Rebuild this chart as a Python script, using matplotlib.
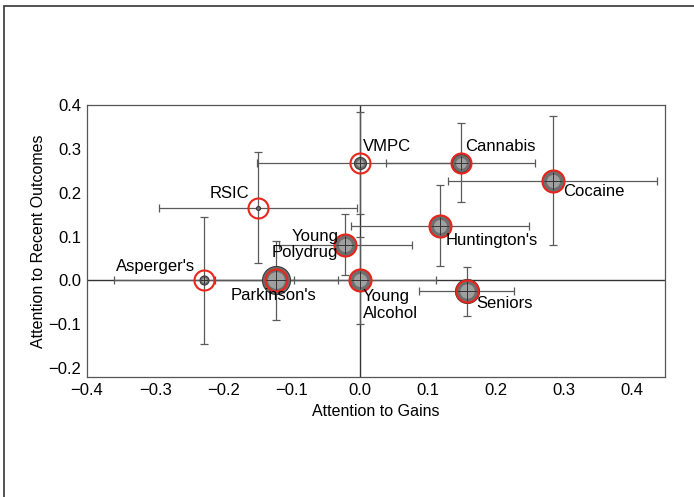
import matplotlib.pyplot as plt
from matplotlib.patches import Rectangle

plt.rcParams['font.family'] = ['Liberation Sans', 'DejaVu Sans']

groups = ["Asperger's", "Parkinson's", "Young\nAlcohol", "Young\nPolydrug", "RSIC",
          "VMPC", "Cannabis", "Cocaine", "Huntington's", "Seniors"]
gains = [-0.228, -0.122, 0.0, -0.021, -0.149, 0.0, 0.148, 0.283, 0.118, 0.157]
recent = [0.0, 0.0, 0.0, 0.082, 0.166, 0.268, 0.268, 0.227, 0.125, -0.025]
gains_err = [0.132, 0.09, 0.112, 0.098, 0.145, 0.15, 0.11, 0.153, 0.13, 0.07]
recent_err = [0.145, 0.09, 0.10, 0.069, 0.126, 0.117, 0.09, 0.147, 0.093, 0.056]

# marker sizes (px) and label placement
dot_px = [9, 28, 22, 22, 4, 12, 18, 22, 22, 24]
ring_px = [20, 22, 22, 22, 20, 20, 20, 22, 22, 22]
offsets = [(-9, 6), (-3, -8), (3, -9), (-7, 0), (-9, 7), (3, 9), (5, 9), (11, -3), (6, -7), (10, -5)]
aligns = [('right', 'bottom'), ('center', 'top'), ('left', 'top'), ('right', 'center'),
          ('right', 'bottom'), ('left', 'bottom'), ('left', 'bottom'), ('left', 'top'),
          ('left', 'top'), ('left', 'top')]

fig = plt.figure(figsize=(6.94, 4.97), dpi=100)
fig.patches.append(Rectangle((4 / 694, -0.1), 1.2, 1.1 - 6 / 497, transform=fig.transFigure,
                             fill=False, edgecolor='#444444', linewidth=1.3))
ax = fig.add_axes([87 / 694, 1 - 377 / 497, 578 / 694, 272 / 497])

ax.axhline(0, color='#333333', lw=1.0, zorder=1)
ax.axvline(0, color='#333333', lw=1.0, zorder=1)

ax.errorbar(gains, recent, xerr=gains_err, yerr=recent_err, fmt='none',
            ecolor='#5a5a5a', elinewidth=0.9, capsize=3, capthick=0.9, zorder=2)

pt = 72 / 100
for x, y, d, r in zip(gains, recent, dot_px, ring_px):
    ax.plot(x, y, 'o', ms=d * pt, mfc='#6e6e6e', mec='#3a3a3a', mew=0.8, zorder=3)
    if d > 8:
        ax.plot(x, y, 'o', ms=d * pt * 0.6, mfc='#a0a0a0', mew=0, zorder=4)
        ax.plot(x, y, '+', ms=d * pt * 0.8, mec='#333333', mew=0.7, zorder=5)
    ax.plot(x, y, 'o', ms=r * pt, mfc='none', mec='#e8261c', mew=1.5, zorder=6)

for name, x, y, off, (ha, va) in zip(groups, gains, recent, offsets, aligns):
    ax.annotate(name, (x, y), xytext=off, textcoords='offset pixels', ha=ha, va=va,
                fontsize=12, linespacing=1.12, multialignment='left' if ha == 'left' else 'right',
                zorder=7)

ax.set_xlim(-0.4, 0.448)
ax.set_ylim(-0.22, 0.4)
ax.set_xticks([-0.4, -0.3, -0.2, -0.1, 0.0, 0.1, 0.2, 0.3, 0.4])
ax.set_yticks([-0.2, -0.1, 0.0, 0.1, 0.2, 0.3, 0.4])
ax.tick_params(labelsize=12, length=0, pad=4)
for s in ax.spines.values():
    s.set_color('#555555')
    s.set_linewidth(0.9)
ax.set_xlabel('Attention to Gains', fontsize=11.5, labelpad=5)
ax.set_ylabel('Attention to Recent Outcomes', fontsize=11.5, labelpad=2)

fig.savefig('out.png', dpi=100)
